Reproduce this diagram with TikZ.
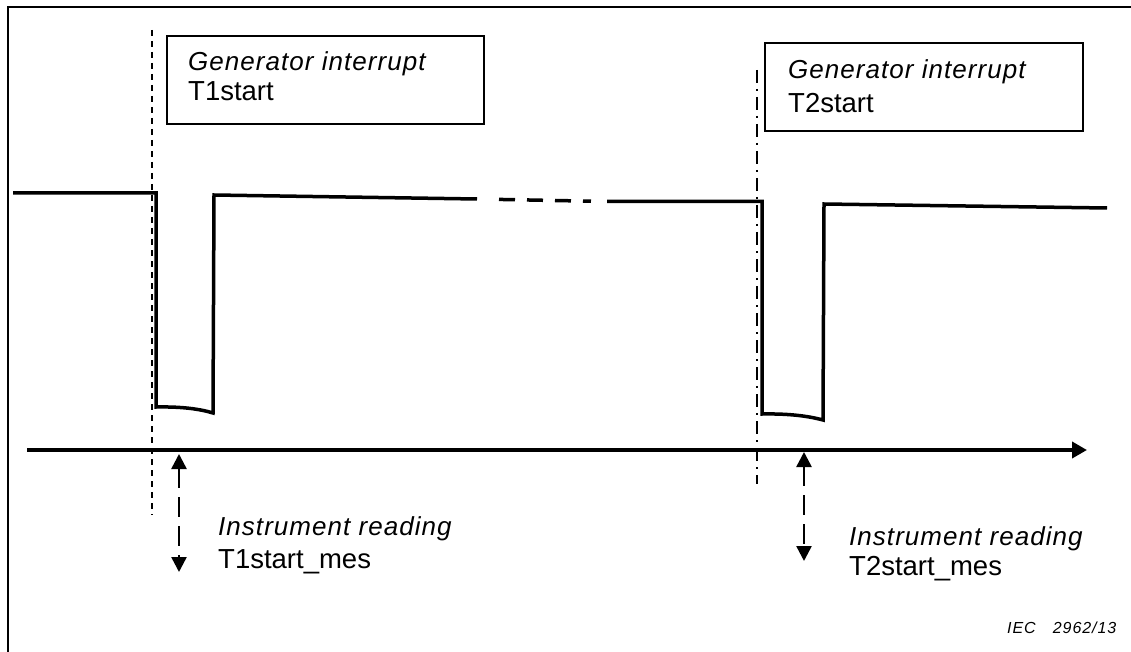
\documentclass[tikz,border=0pt]{standalone}
\usepackage{fontspec}
\setmainfont{Liberation Sans}
\newfontfamily\itlab{Liberation Sans}[LetterSpace=4]
\newfontfamily\itsmall{Liberation Sans}[LetterSpace=6]
\usetikzlibrary{arrows.meta}

\begin{document}
\begin{tikzpicture}[x=1pt,y=-1pt,
  txt/.style={anchor=base west, inner sep=0pt, font=\fontsize{27.5}{32}\selectfont},
  itxt/.style={anchor=base west, inner sep=0pt, font=\itlab\itshape\fontsize{26}{30}\selectfont},
  labelbox/.style={draw, line width=1.6pt, anchor=north west, inner sep=0pt},
  signal/.style={line width=3.5pt, line join=miter},
  guide/.style={line width=1.5pt, dash pattern=on 6pt off 5pt},
  guidedot/.style={line width=1.5pt, dash pattern=on 13pt off 6pt on 2pt off 6pt},
  reading/.style={line width=2.5pt, dash pattern=on 20pt off 9pt,
    {Triangle[width=15pt,length=15pt]}-{Triangle[width=15pt,length=15pt]}},
  timeaxis/.style={line width=4.5pt, -{Triangle[width=16pt,length=15pt]}},
]
% canvas and frame
\useasboundingbox (0,0) rectangle (1131,652);
\fill[white] (0,0) rectangle (1131,652);
\draw[line width=2pt] (1131,7) -- (8,7) -- (8,652);

% labelled boxes for the generator interrupts
\node[labelbox, minimum width=317pt, minimum height=88pt] (box1) at (166,35) {};
\node[itxt] (gen1) at (188,71) {Generator interrupt};
\node[txt]  (t1)   at (188,101) {T1start};

\node[labelbox, minimum width=318pt, minimum height=88pt] (box2) at (764,42) {};
\node[itxt] (gen2) at (788,79) {Generator interrupt};
\node[txt]  (t2)   at (788,113) {T2start};

% vertical guides at the interrupt instants
\coordinate (g1top) at (152,30);
\coordinate (g1bot) at (152,515);
\draw[guide] (g1top) -- (g1bot);
\coordinate (g2top) at (757,70);
\coordinate (g2bot) at (757,484);
\draw[guidedot] (g2top) -- (g2bot);

% signal level with the two dropouts
\coordinate (s0) at (13,193);
\coordinate (s1) at (156,193);
\coordinate (s2) at (156,407);
\coordinate (s3) at (213,413);
\coordinate (s4) at (214,195);
\coordinate (s5) at (477,199);
\coordinate (s6) at (607,201.5);
\coordinate (s7) at (762,201.5);
\coordinate (s8) at (762,414);
\coordinate (s9) at (823,420);
\coordinate (s10) at (824,204);
\coordinate (s11) at (1107,208);
\draw[signal] (s0) -- (s1) -- (s2) .. controls (182,406.5) and (200,409) .. (s3) -- (s4) -- (s5);
\draw[line width=3.5pt, dash pattern=on 0pt off 22pt on 16pt off 12pt on 16pt off 12pt on 16pt off 12pt on 8pt off 60pt]
  (s5) -- (s6);
\draw[signal] (s6) -- (s7) -- (s8) .. controls (789,413.5) and (808,416) .. (s9) -- (s10) -- (s11);

% time axis
\coordinate (ax0) at (27,450);
\coordinate (ax1) at (1087,450);
\draw[timeaxis] (ax0) -- (ax1);

% instrument reading markers
\coordinate (r1top) at (179,454);
\coordinate (r1bot) at (179,572);
\draw[reading] (r1top) -- (r1bot);
\node[itxt] (ir1) at (218,535) {Instrument reading};
\node[txt]  (m1)  at (218,568) {T1start\_mes};

\coordinate (r2top) at (804,452);
\coordinate (r2bot) at (804,561);
\draw[reading] (r2top) -- (r2bot);
\node[itxt] (ir2) at (849,545) {Instrument reading};
\node[txt]  (m2)  at (849,575) {T2start\_mes};

% figure reference
\node[anchor=base west, inner sep=0pt, font=\itsmall\itshape\fontsize{16}{19}\selectfont]
  (ref) at (1007,633) {IEC\hspace{17pt}2962/13};
\end{tikzpicture}
\end{document}
